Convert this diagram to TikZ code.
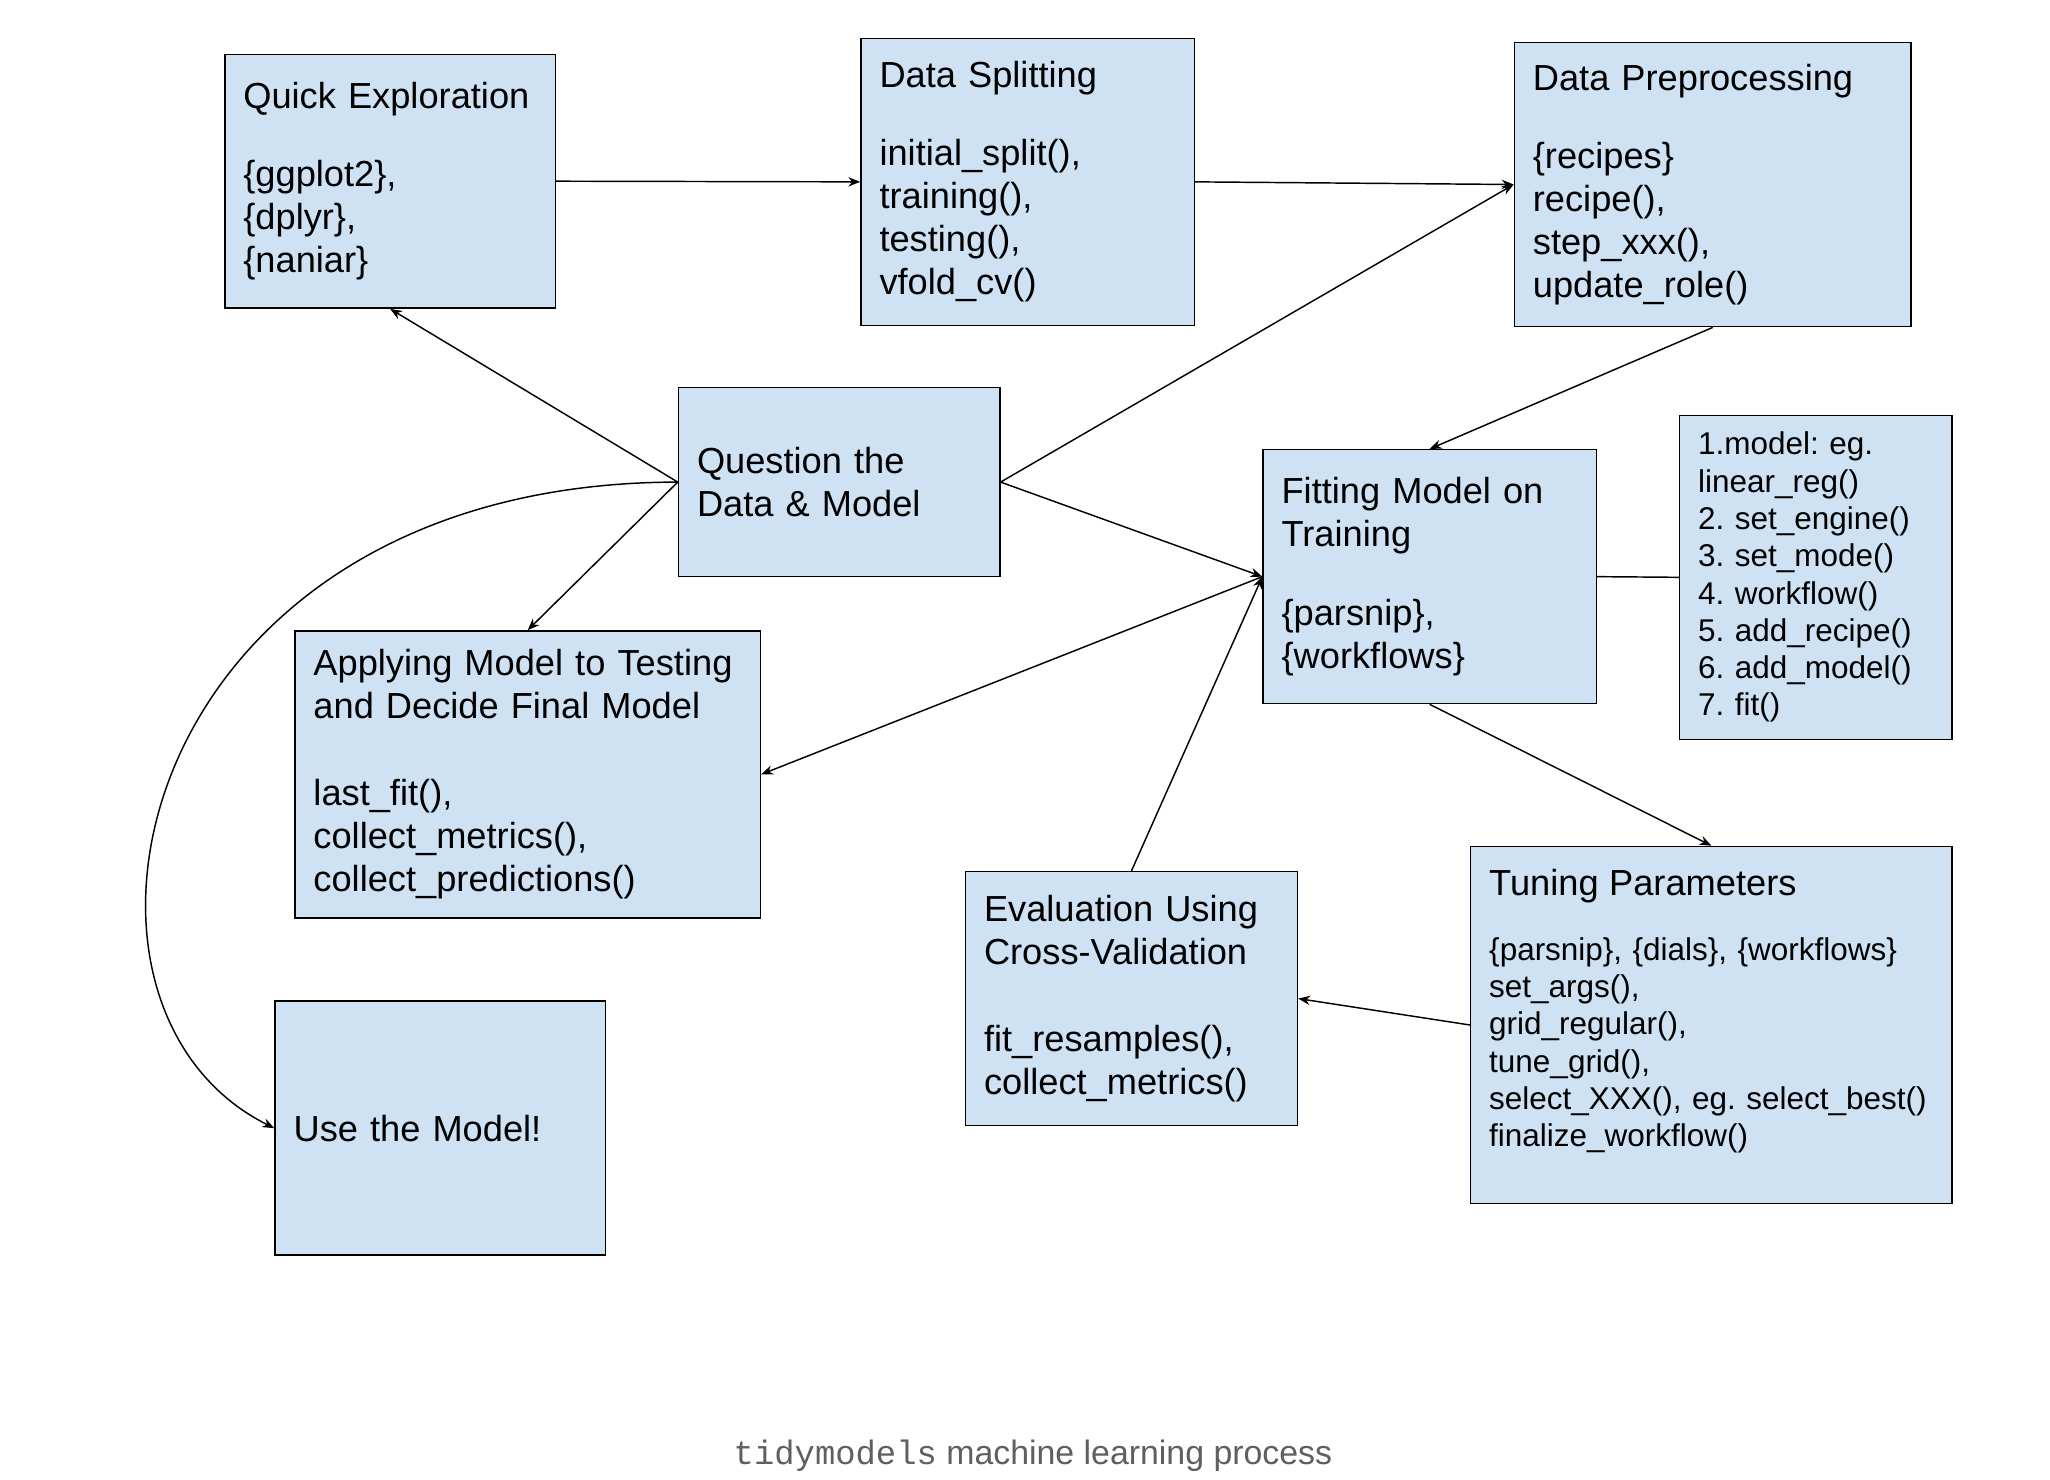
\documentclass[tikz,border=0pt]{standalone}
\usepackage{fontspec}
\usepackage{xcolor}
\usepackage{tikz}
\usetikzlibrary{arrows.meta}
\setmainfont{Liberation Sans}
\newfontfamily\capmono{Liberation Mono}
\definecolor{boxblue}{HTML}{CFE2F3}
\definecolor{capgray}{HTML}{5F5F5F}
\newcommand{\boxtext}{\fontsize{27.4}{32.5}\selectfont}
\newcommand{\listtext}{\fontsize{23.8}{28.2}\selectfont}
\frenchspacing
\begin{document}
\begin{tikzpicture}[x=1pt,y=-1pt,
		box/.style={draw=black, fill=boxblue, line width=1.1pt, inner xsep=14pt, inner ysep=0pt, align=left, font=\boxtext},
		flow/.style={line width=1.1pt, -{Stealth[length=9pt,width=7pt]}}]
		\useasboundingbox (0,0) rectangle (1550,1119);
		
		% top row
		\node[box, text width=222pt, minimum height=192pt] (qexp) at (295,137) {Quick Exploration\\[26.5pt]\{ggplot2\},\\\{dplyr\},\\\{naniar\}};
		\node[box, text width=224pt, minimum height=217pt] (split) at (777,137.5) {Data Splitting\\[26.5pt]initial\_split(),\\training(),\\testing(),\\vfold\_cv()};
		\node[box, text width=272pt, minimum height=215pt] (prep) at (1295,139.5) {Data Preprocessing\\[26.5pt]\{recipes\}\\recipe(),\\step\_xxx(),\\update\_role()};
		
		% middle
		\node[box, text width=215pt, minimum height=143pt] (quest) at (634.5,364.5) {Question the\\Data \& Model};
		\node[box, text width=224pt, minimum height=192pt] (fit) at (1081,436) {Fitting Model on\\Training\\[27.5pt]\{parsnip\},\\\{workflows\}};
		\node[box, text width=178pt, minimum height=245pt, font=\listtext] (steps) at (1373,436.5) {1.model: eg.\\linear\_reg()\\2. set\_engine()\\3. set\_mode()\\4. workflow()\\5. add\_recipe()\\6. add\_model()\\7. fit()};
		\node[box, text width=324pt, minimum height=217pt] (apply) at (399,585.5) {Applying Model to Testing\\and Decide Final Model\\[33.5pt]last\_fit(),\\collect\_metrics(),\\collect\_predictions()};
		
		% bottom row
		\node[box, text width=223pt, minimum height=192pt] (eval) at (855.5,755) {Evaluation Using\\Cross-Validation\\[33.5pt]fit\_resamples(),\\collect\_metrics()};
		\node[box, text width=336pt, minimum height=270pt, font=\listtext] (tune) at (1294,775) {{\boxtext Tuning Parameters}\\[21pt]\{parsnip\}, \{dials\}, \{workflows\}\\set\_args(),\\grid\_regular(),\\tune\_grid(),\\select\_XXX(), eg. select\_best()\\finalize\_workflow()\rule[-26pt]{0pt}{1pt}};
		\node[box, text width=222pt, minimum height=192pt] (use) at (333,853) {Use the Model!};
		
		\node[font=\fontsize{25.6}{30}\selectfont, text=capgray] (caption) at (781,1101) {{\capmono tidymodels} machine learning process};
		
		% connectors
		\draw[flow] (qexp.east) -- (split.west);
		\draw[flow] (split.east) -- (prep.west);
		\draw[flow] (quest.east) -- (prep.west);
		\draw[flow] (quest.west) -- (qexp.south);
		\draw[flow] (quest.west) -- (apply.north);
		\draw[flow] (quest.west) .. controls (100,365) and (20,760) .. (use.west);
		\draw[flow] (quest.east) -- (fit.west);
		\draw[flow] (prep.south) -- (fit.north);
		\draw[flow] (fit.west) -- (apply.east);
		\draw[flow] (eval.north) -- (fit.west);
		\draw[line width=1.1pt] (fit.east) -- (steps.west);
		\draw[flow] (fit.south) -- (tune.north);
		\draw[flow] (tune.west) -- (eval.east);
	\end{tikzpicture}
\end{document}
